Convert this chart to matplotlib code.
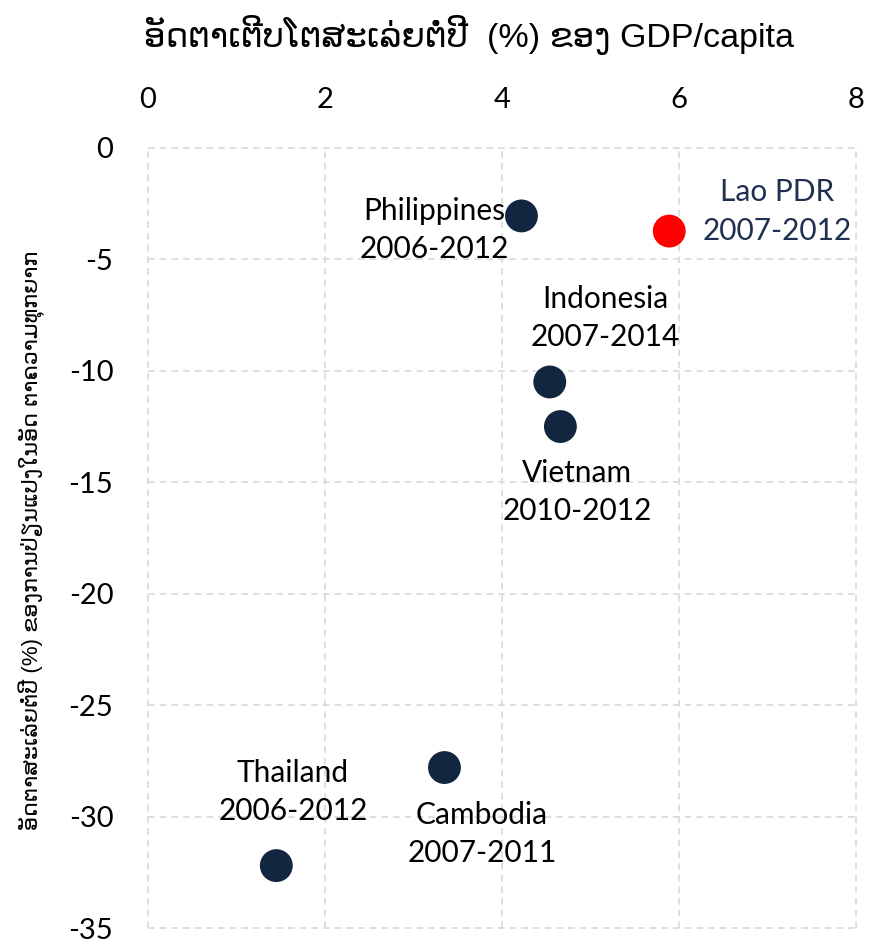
import matplotlib
matplotlib.use("Agg")
import matplotlib.pyplot as plt

plt.rcParams["axes.unicode_minus"] = False

countries = ["Philippines\n2006-2012", "Lao PDR\n2007-2012", "Indonesia\n2007-2014",
             "Vietnam\n2010-2012", "Thailand\n2006-2012", "Cambodia\n2007-2011"]
gdp_growth = [4.22, 5.89, 4.54, 4.66, 1.45, 3.35]
poverty_change = [-3.05, -3.73, -10.5, -12.5, -32.2, -27.8]
colors = ["#12263f", "#ff0000", "#12263f", "#12263f", "#12263f", "#12263f"]
label_colors = ["#000000", "#1f3050", "#000000", "#000000", "#000000", "#000000"]
label_offsets = [(-63, -10), (78, 14), (40, 46), (12, -47), (12, 53), (27, -48)]
x_ticks = [0, 2, 4, 6, 8]
y_ticks = [0, -5, -10, -15, -20, -25, -30, -35]

title = "ອັດຕາເຕີບໂຕສະເລ່ຍຕໍ່ປີ  (%) ຂອງ GDP/capita"
ylabel = "ອັດຕາສະເລ່ຍຕໍ່ປີ (%) ຂອງການປ່ຽນແປງໃນອັດ ຕາຄວາມທຸກຍາກ"

fig = plt.figure(figsize=(8.83, 9.43), dpi=100)
ax = fig.add_axes([0.1676, 0.0159, 0.9694 - 0.1676, 0.8431 - 0.0159])

ax.scatter(gdp_growth, poverty_change, s=560, c=colors, zorder=3, linewidths=0)
for x, y, lab, col, off in zip(gdp_growth, poverty_change, countries, label_colors, label_offsets):
    ax.annotate(lab, (x, y), xytext=off, textcoords="offset points", ha="center", va="center",
                fontsize=21.5, color=col, family=["Lato", "DejaVu Sans"], linespacing=1.45, zorder=4)

ax.set_xlim(0, 8)
ax.set_ylim(-35, 0)
ax.set_xticks(x_ticks)
ax.set_yticks(y_ticks)
ax.xaxis.tick_top()
ax.tick_params(axis="both", length=0, labelsize=21)
ax.tick_params(axis="x", pad=25)
ax.tick_params(axis="y", pad=25)
for lbl in ax.get_xticklabels() + ax.get_yticklabels():
    lbl.set_family(["Lato", "DejaVu Sans"])
for sp in ax.spines.values():
    sp.set_visible(False)
ax.grid(True, color="#d9d9d9", linestyle=(0, (4, 3)), linewidth=1.2, zorder=0)
ax.set_axisbelow(True)
for gl in ax.get_xgridlines() + ax.get_ygridlines():
    gl.set_clip_on(False)

fig.text(469 / 883, 1 - 35 / 943, title, ha="center", va="center", fontsize=24.5,
         family=["Liberation Sans", "DejaVu Sans"])
fig.text(32 / 883, 1 - 540 / 943, ylabel, ha="center", va="center", rotation=90, fontsize=16,
         family=["Liberation Sans", "DejaVu Sans"])

fig.savefig("out.png", dpi=100)
